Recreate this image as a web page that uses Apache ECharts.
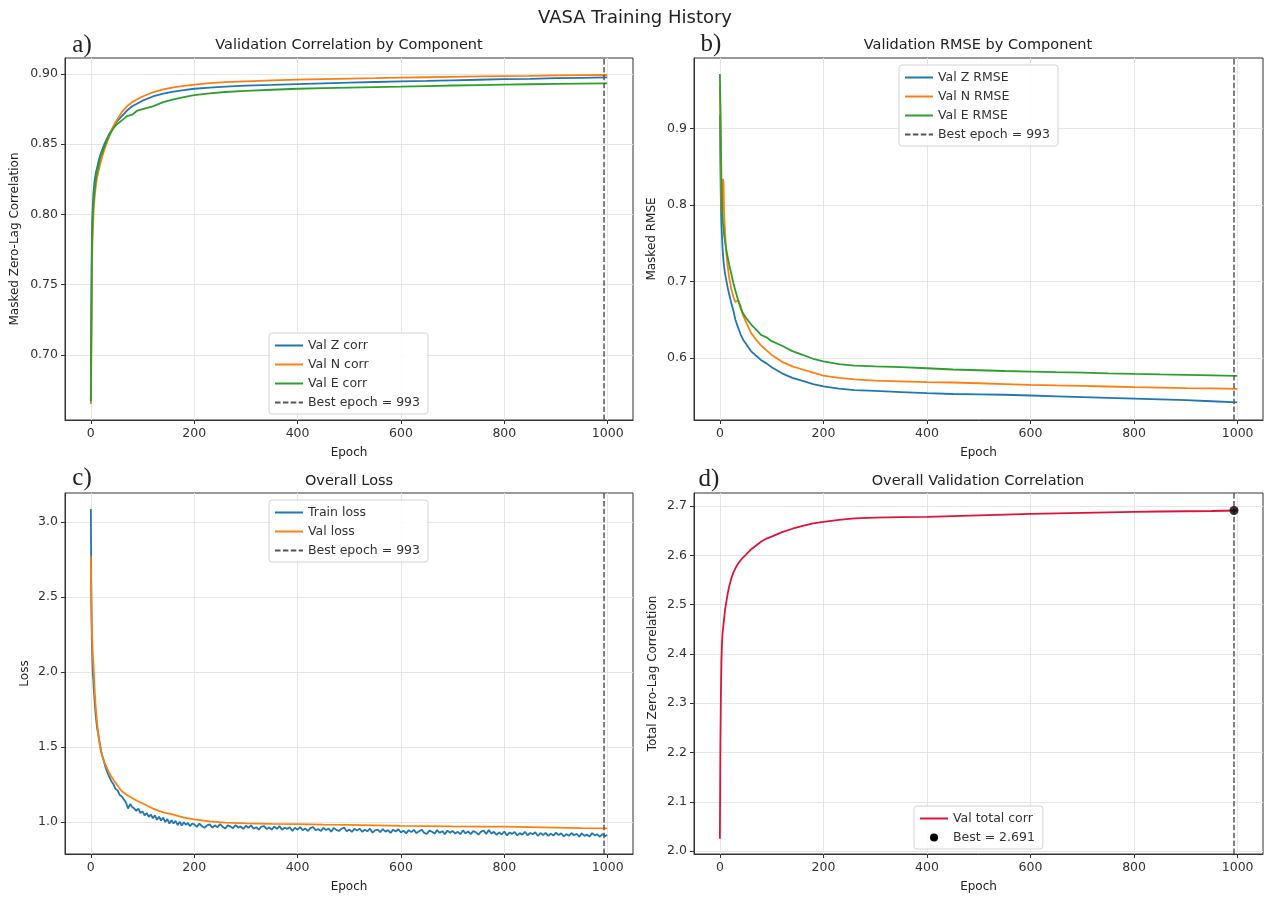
<!DOCTYPE html>
<html><head><meta charset="utf-8">
<script src="https://cdn.jsdelivr.net/npm/echarts@6/dist/echarts.min.js"></script>
<style>html,body{margin:0;padding:0;background:#fff}#c{width:1270px;height:899px}</style>
</head><body><div id="c"></div>
<script>
// ---------- data ----------
const epochs = [0,1,2,3,4,5,6,7,8,10,12,15,18,22,26,30,35,40,45,50,60,70,80,90,100,120,140,160,180,200,230,260,300,350,400,450,500,550,600,650,700,750,800,850,900,950,999];

const corrZ = [0.667,0.74,0.785,0.80,0.808,0.815,0.819,0.823,0.826,0.830,0.833,0.838,0.842,0.846,0.850,0.853,0.857,0.860,0.863,0.866,0.870,0.874,0.877,0.879,0.881,0.884,0.886,0.8875,0.8885,0.8895,0.8903,0.891,0.8917,0.8922,0.8928,0.8933,0.8938,0.8943,0.8948,0.8951,0.8955,0.8959,0.8963,0.8966,0.897,0.8973,0.8976];
const corrN = [0.665,0.70,0.755,0.78,0.79,0.80,0.806,0.811,0.815,0.821,0.826,0.831,0.836,0.841,0.846,0.850,0.855,0.860,0.864,0.867,0.873,0.877,0.880,0.882,0.884,0.887,0.889,0.8905,0.8915,0.8925,0.8935,0.8942,0.8948,0.8955,0.896,0.8964,0.8967,0.897,0.8974,0.8977,0.898,0.8983,0.8985,0.8987,0.899,0.8992,0.8993];
const corrE = [0.667,0.72,0.77,0.79,0.80,0.808,0.812,0.816,0.82,0.826,0.830,0.835,0.840,0.844,0.848,0.852,0.856,0.859,0.862,0.864,0.867,0.870,0.871,0.874,0.875,0.877,0.880,0.882,0.8835,0.885,0.8862,0.8872,0.888,0.8888,0.8895,0.8899,0.8903,0.8907,0.891,0.8914,0.8918,0.8921,0.8924,0.8927,0.893,0.8932,0.8933];

const rmseZ = [0.918,0.85,0.80,0.775,0.76,0.745,0.735,0.727,0.72,0.71,0.703,0.692,0.683,0.672,0.662,0.650,0.640,0.631,0.624,0.619,0.609,0.603,0.597,0.593,0.588,0.580,0.574,0.570,0.566,0.563,0.560,0.558,0.557,0.5555,0.554,0.553,0.5525,0.552,0.551,0.550,0.549,0.548,0.547,0.546,0.545,0.5435,0.542];
const rmseN = [0.955,0.90,0.84,0.80,0.79,0.795,0.834,0.83,0.79,0.765,0.74,0.72,0.705,0.69,0.68,0.673,0.676,0.668,0.655,0.648,0.633,0.624,0.616,0.610,0.604,0.595,0.589,0.585,0.581,0.577,0.574,0.572,0.5705,0.5695,0.5685,0.568,0.567,0.566,0.565,0.5642,0.5635,0.5628,0.562,0.5613,0.5607,0.5602,0.5597];
const rmseE = [0.971,0.93,0.88,0.83,0.80,0.785,0.775,0.77,0.762,0.752,0.743,0.732,0.722,0.71,0.698,0.688,0.676,0.665,0.658,0.653,0.644,0.637,0.630,0.627,0.622,0.616,0.609,0.604,0.599,0.5955,0.592,0.590,0.589,0.588,0.5866,0.585,0.584,0.583,0.5822,0.5815,0.581,0.580,0.5792,0.5785,0.578,0.5773,0.5766];

const valLoss = [2.77,2.5,2.3,2.18,2.10,2.05,1.98,1.91,1.84,1.74,1.66,1.57,1.50,1.44,1.40,1.37,1.33,1.30,1.275,1.25,1.205,1.18,1.16,1.14,1.125,1.09,1.065,1.05,1.03,1.018,1.005,0.996,0.991,0.988,0.986,0.983,0.981,0.978,0.975,0.973,0.971,0.970,0.969,0.966,0.963,0.96,0.958];

const trainEpochs = [0,1,2,3,4,5,6,7,8,9,10,12,16,20,24,28,32,36,40,44,48,52,56,60,64,68,72,76,80,84,88,92,96,100,104,108,112,116,120,124,128,132,136,140,144,148,152,156,160,164,168,172,176,180,184,188,192,196,
 200,205,210,215,220,225,230,235,240,245,250,255,260,265,270,275,280,285,290,295,
 300,305,310,315,320,325,330,335,340,345,350,355,360,365,370,375,380,385,390,395,
 400,405,410,415,420,425,430,435,440,445,450,455,460,465,470,475,480,485,490,495,
 500,505,510,515,520,525,530,535,540,545,550,555,560,565,570,575,580,585,590,595,
 600,605,610,615,620,625,630,635,640,645,650,655,660,665,670,675,680,685,690,695,
 700,705,710,715,720,725,730,735,740,745,750,755,760,765,770,775,780,785,790,795,
 800,805,810,815,820,825,830,835,840,845,850,855,860,865,870,875,880,885,890,895,
 900,905,910,915,920,925,930,935,940,945,950,955,960,965,970,975,980,985,990,995,999];
const trainLoss = [3.087,2.45,2.20,2.08,1.99,1.93,1.87,1.82,1.77,1.73,1.69,1.63,1.55,1.47,1.42,1.37,1.33,1.30,1.27,1.25,1.22,1.21,1.18,1.17,1.15,1.13,1.09,1.12,1.10,1.09,1.075,1.09,1.06,1.07,1.045,1.06,1.035,1.05,1.025,1.045,1.015,1.035,1.01,1.03,1.0,1.02,0.99,1.012,0.99,1.008,0.98,1.003,0.977,0.998,0.982,0.994,0.972,0.99,
 0.984,0.968,0.989,0.972,0.962,0.978,0.984,0.963,0.978,0.966,0.986,0.969,0.956,0.978,0.971,0.959,0.980,0.962,0.971,0.954,
 0.975,0.962,0.978,0.955,0.966,0.949,0.970,0.973,0.954,0.964,0.949,0.970,0.954,0.973,0.948,0.962,0.955,0.966,0.941,0.962,
 0.949,0.966,0.945,0.957,0.940,0.961,0.966,0.945,0.954,0.940,0.961,0.947,0.956,0.936,0.961,0.948,0.940,0.955,0.963,0.939,
 0.951,0.935,0.955,0.943,0.956,0.935,0.949,0.938,0.956,0.929,0.945,0.950,0.933,0.953,0.936,0.946,0.928,0.949,0.937,0.952,
 0.930,0.943,0.924,0.946,0.933,0.948,0.926,0.939,0.949,0.928,0.920,0.943,0.935,0.923,0.946,0.928,0.939,0.919,0.943,0.929,
 0.941,0.923,0.935,0.919,0.944,0.925,0.937,0.920,0.940,0.931,0.916,0.936,0.944,0.921,0.947,0.923,0.935,0.915,0.931,0.917,
 0.937,0.911,0.930,0.921,0.934,0.911,0.926,0.916,0.935,0.912,0.927,0.919,0.932,0.907,0.927,0.914,0.928,0.908,0.923,0.910,
 0.930,0.913,0.925,0.904,0.920,0.908,0.927,0.912,0.922,0.903,0.924,0.908,0.916,0.904,0.926,0.911,0.918,0.902,0.920,0.906,0.914];

const totalCorr = [2.025,2.22,2.32,2.386,2.42,2.44,2.45,2.46,2.47,2.49,2.503,2.522,2.537,2.553,2.565,2.574,2.583,2.59,2.596,2.601,2.612,2.62,2.628,2.634,2.638,2.647,2.654,2.66,2.665,2.668,2.672,2.675,2.6765,2.6775,2.678,2.6795,2.681,2.6825,2.684,2.685,2.686,2.687,2.688,2.689,2.6895,2.690,2.691];

const bestEpoch = 993;
const bestTotal = 2.691;

const xTicks = [0,200,400,600,800,1000];
const corrTicks = [0.70,0.75,0.80,0.85,0.90];
const rmseTicks = [0.6,0.7,0.8,0.9];
const lossTicks = [1.0,1.5,2.0,2.5,3.0];
const totalTicks = [2.0,2.1,2.2,2.3,2.4,2.5,2.6,2.7];

const xLim = [-50, 1049];
const corrLim = [0.6536, 0.9114];
const rmseLim = [0.519, 0.992];
const lossLim = [0.787, 3.193];
const totalLim = [1.994, 2.7265];

// ---------- styling ----------
const F = 'DejaVu Sans';
const C_BLUE = '#1f77b4', C_ORANGE = '#ff7f0e', C_GREEN = '#2ca02c', C_RED = '#dc143c', C_DASH = '#555555';
const AX = '#333333';

const grids = [
  {left:65, top:58, width:568, height:362},
  {left:694, top:58, width:569, height:362},
  {left:65, top:493, width:568, height:361},
  {left:694, top:493, width:569, height:361}
].map(g => Object.assign({show:true, borderColor:AX, borderWidth:1, backgroundColor:'transparent', containLabel:false}, g));

function xAx(i){
  return {type:'value', gridIndex:i, min:xLim[0], max:xLim[1],
    name:'Epoch', nameLocation:'middle', nameGap:27,
    nameTextStyle:{fontSize:12, color:'#222', fontFamily:F},
    axisLine:{show:true, onZero:false, lineStyle:{color:AX, width:1}},
    axisTick:{show:true, inside:false, length:4, customValues:xTicks, lineStyle:{color:AX}},
    axisLabel:{customValues:xTicks, fontSize:12.5, color:'#333', fontFamily:F, margin:7,
      formatter: v => String(Math.round(v))},
    splitLine:{show:true, lineStyle:{color:'#e6e6e6', width:1}}};
}
function yAx(i, lim, ticks, dec, name, gap){
  return {type:'value', gridIndex:i, min:lim[0], max:lim[1],
    name:name, nameLocation:'middle', nameGap:gap, nameRotate:90,
    nameTextStyle:{fontSize:12, color:'#222', fontFamily:F},
    axisLine:{show:true, onZero:false, lineStyle:{color:AX, width:1}},
    axisTick:{show:true, inside:false, length:4, customValues:ticks, lineStyle:{color:AX}},
    axisLabel:{customValues:ticks, fontSize:12.5, color:'#333', fontFamily:F, margin:7,
      formatter: v => Number(v).toFixed(dec)},
    splitLine:{show:true, lineStyle:{color:'#e6e6e6', width:1}}};
}

function line(name, gi, xs, ys, color){
  return {type:'line', name:name, xAxisIndex:gi, yAxisIndex:gi,
    data: xs.map((e,k)=>[e, ys[k]]), symbol:'none', showSymbol:false,
    lineStyle:{color:color, width:1.8}, itemStyle:{color:color}, emphasis:{disabled:true}};
}
function bestLine(name, gi, lim){
  return {type:'line', name:name, xAxisIndex:gi, yAxisIndex:gi,
    data:[[bestEpoch, lim[0]],[bestEpoch, lim[1]]], symbol:'none', showSymbol:false,
    lineStyle:{color:C_DASH, width:1.5, type:[5.5,2.4]}, itemStyle:{color:C_DASH}, emphasis:{disabled:true}};
}

const legendCommon = {orient:'vertical', itemWidth:28, itemHeight:14, itemGap:6,
  padding:[6,8,5,5], backgroundColor:'rgba(255,255,255,0.85)', borderColor:'#d4d4d4',
  borderWidth:1, borderRadius:3, selectedMode:false,
  textStyle:{fontSize:12.5, color:'#333', fontFamily:F}, itemStyle:{opacity:0}};

const BEST_LBL = 'Best epoch = ' + bestEpoch;
const BEST_PT = 'Best = ' + bestTotal.toFixed(3);

function txt(x, y, s, size, family){
  return {type:'text', x:x, y:y, silent:true,
    style:{text:s, fontSize:size, fontFamily:family, fill:'#222',
      align:'center', verticalAlign:'middle', textAlign:'center', textVerticalAlign:'middle'}};
}
const SERIF = 'Liberation Serif';

const option = {
  animation:false,
  backgroundColor:'#ffffff',
  grid: grids,
  xAxis: [xAx(0), xAx(1), xAx(2), xAx(3)],
  yAxis: [
    yAx(0, corrLim, corrTicks, 2, 'Masked Zero-Lag Correlation', 44),
    yAx(1, rmseLim, rmseTicks, 1, 'Masked RMSE', 36),
    yAx(2, lossLim, lossTicks, 1, 'Loss', 34),
    yAx(3, totalLim, totalTicks, 1, 'Total Zero-Lag Correlation', 35)
  ],
  legend: [
    Object.assign({}, legendCommon, {left:269, top:333, data:['Val Z corr','Val N corr','Val E corr',BEST_LBL]}),
    Object.assign({}, legendCommon, {left:899, top:65, data:['Val Z RMSE','Val N RMSE','Val E RMSE',BEST_LBL]}),
    Object.assign({}, legendCommon, {left:269, top:500, data:['Train loss','Val loss',BEST_LBL]}),
    Object.assign({}, legendCommon, {left:914, top:806, itemHeight:8,
      data:['Val total corr', {name:BEST_PT, icon:'circle', itemStyle:{opacity:1, color:'#000'}}]})
  ],
  series: [
    line('Val Z corr', 0, epochs, corrZ, C_BLUE),
    line('Val N corr', 0, epochs, corrN, C_ORANGE),
    line('Val E corr', 0, epochs, corrE, C_GREEN),
    bestLine(BEST_LBL, 0, corrLim),
    line('Val Z RMSE', 1, epochs, rmseZ, C_BLUE),
    line('Val N RMSE', 1, epochs, rmseN, C_ORANGE),
    line('Val E RMSE', 1, epochs, rmseE, C_GREEN),
    bestLine(BEST_LBL, 1, rmseLim),
    line('Train loss', 2, trainEpochs, trainLoss, C_BLUE),
    line('Val loss', 2, epochs, valLoss, C_ORANGE),
    bestLine(BEST_LBL, 2, lossLim),
    line('Val total corr', 3, epochs, totalCorr, C_RED),
    bestLine('best-d', 3, totalLim),
    {type:'scatter', name:BEST_PT, xAxisIndex:3, yAxisIndex:3, data:[[bestEpoch, bestTotal]],
     symbolSize:9, itemStyle:{color:'#000'}, z:5, emphasis:{disabled:true}}
  ],
  graphic: [
    txt(635, 18, 'VASA Training History', 18, F),
    txt(349, 45, 'Validation Correlation by Component', 14.5, F),
    txt(978, 45, 'Validation RMSE by Component', 14.5, F),
    txt(349, 481, 'Overall Loss', 14.5, F),
    txt(978, 481, 'Overall Validation Correlation', 14.5, F),
    txt(82, 45, 'a)', 25, SERIF),
    txt(711, 44, 'b)', 25, SERIF),
    txt(82, 478, 'c)', 25, SERIF),
    txt(709, 479, 'd)', 25, SERIF)
  ]
};

const chart = echarts.init(document.getElementById('c'), null, {renderer:'canvas'});
chart.setOption(option);
</script>
</body></html>
